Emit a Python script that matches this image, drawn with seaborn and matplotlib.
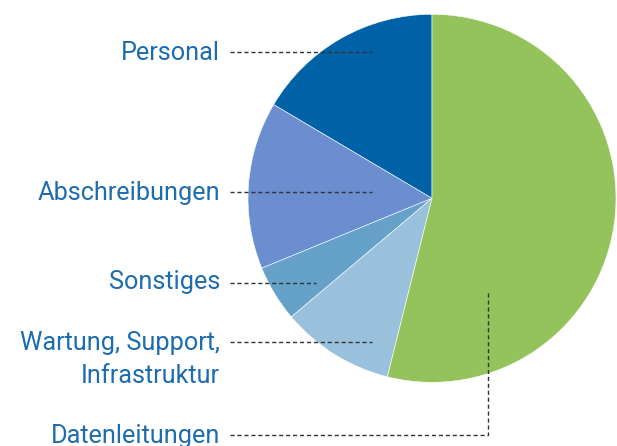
import matplotlib
matplotlib.use("Agg")
import matplotlib.pyplot as plt
import seaborn as sns

categories = ["Personal", "Abschreibungen", "Sonstiges",
              "Wartung, Support,\nInfrastruktur", "Datenleitungen"]
values = [16.5, 14.7, 4.95, 9.95, 53.9]
colors = ["#0062a6", "#6a8ecf", "#65a1c9", "#9ac1db", "#93c35a"]

sns.set_theme(style="white")
plt.rcParams["font.family"] = ["Roboto", "DejaVu Sans"]

W, H = 617, 446
fig = plt.figure(figsize=(W / 100, H / 100), dpi=100)
ax = fig.add_axes([0, 0, 1, 1])

cx, cy, r = 432, H - 198.3, 184
ax.pie(values, colors=colors, startangle=90, counterclock=True,
       center=(cx, cy), radius=r,
       wedgeprops=dict(edgecolor="white", linewidth=0.4))
ax.set_xlim(0, W)
ax.set_ylim(0, H)
ax.set_aspect("equal")
ax.axis("off")

text_color = "#1c6cae"
line_kw = dict(color="#333333", lw=1.0, linestyle=(0, (3, 2)))
label_x = 220
line_x0 = 230

# (line y in px from top, line end x, text baseline y)
layout = [
    (52.3, 372, 60),
    (192.3, 372, 200),
    (282.7, 316, 289.5),
    (341.8, 372, 350),
    (435, None, 443),
]

for cat, (ly, lx1, by) in zip(categories, layout):
    lines = cat.split("\n")
    for i, t in enumerate(lines):
        ax.text(label_x, H - (by + i * 32.7), t, ha="right", va="baseline",
                fontsize=18.2, color=text_color)
    if lx1 is not None:
        ax.plot([line_x0, lx1], [H - ly, H - ly], **line_kw)
    else:
        ax.plot([line_x0, 488, 488], [H - ly, H - ly, H - 291], **line_kw)

fig.savefig("out.png", dpi=100)
